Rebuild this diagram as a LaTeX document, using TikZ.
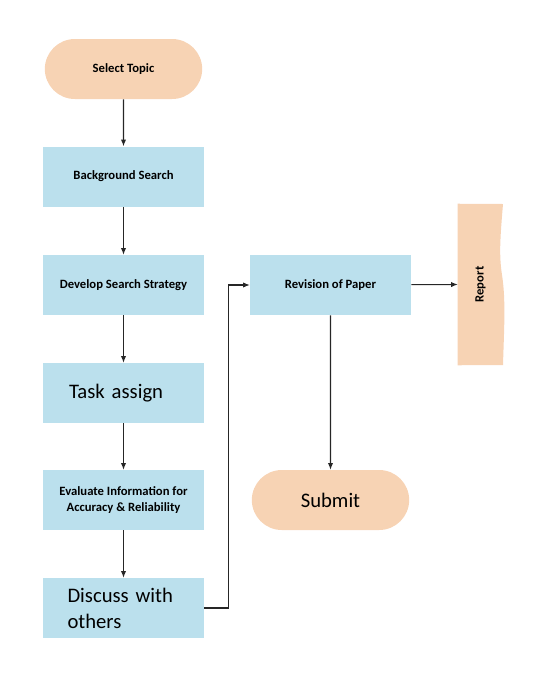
\documentclass[tikz,border=0pt]{standalone}
\usepackage{fontspec}
\setmainfont{Carlito}
\usetikzlibrary{arrows.meta,shapes.misc}
\definecolor{stepblue}{RGB}{187,224,237}
\definecolor{peach}{RGB}{247,211,180}
\tikzset{
  stepbox/.style={shape=rectangle,fill=stepblue,minimum width=120.75pt,minimum height=45pt,inner sep=2pt,align=center,font=\fontsize{9.5}{12}\selectfont\bfseries},
  bigbox/.style={stepbox,align=left,text width=84pt,inner xsep=18.4pt,font=\fontsize{15.5}{19.5}\selectfont},
  pill/.style={shape=rounded rectangle,fill=peach,minimum width=122pt,minimum height=45pt,inner sep=2pt,font=\fontsize{9.5}{12}\selectfont\bfseries},
  flow/.style={draw=black!85,line width=0.8pt,-{Latex[length=5pt,width=4pt]}}
}
\begin{document}
\begin{tikzpicture}[x=0.75pt,y=-0.75pt]
  \useasboundingbox (0,0) rectangle (539,686);
  \draw
    (123.5,69) node[pill] (topic){Select Topic}
    (123.5,176.5) node[stepbox] (background){Background Search}
    (123.5,285) node[stepbox] (strategy){Develop Search Strategy}
    (123.5,393) node[bigbox,inner xsep=19.5pt,text width=81.75pt] (task){Task assign}
    (123.5,500) node[stepbox] (evaluate){Evaluate Information for\\Accuracy \& Reliability}
    (123.5,608) node[bigbox] (discuss){Discuss with\\others}
    (330.5,285) node[stepbox] (revision){Revision of Paper}
    (330.5,500) node[pill,font=\fontsize{15.5}{19}\selectfont] (submit){Submit}
    (480.5,284.5) node[minimum width=33.75pt,minimum height=120.75pt,inner sep=0pt] (report){};
  % report sheet with wavy edge
  \fill[peach] (report.north west) -- (503,204)
    .. controls (500,240) and (499,255) .. (502,275)
    .. controls (506,300) and (504,330) .. (503,365)
    -- (report.south west) -- cycle;
  \node[rotate=90,font=\fontsize{9.5}{12}\selectfont\bfseries] (reportlabel) at (report.center) {Report};
  \begin{scope}[flow]
    \draw (topic) -- (background);
    \draw (background) -- (strategy);
    \draw (strategy) -- (task);
    \draw (task) -- (evaluate);
    \draw (evaluate) -- (discuss);
    \draw (discuss.east) -- ++(24,0) |- (revision.west);
    \draw (revision) -- (report.west);
    \draw (revision) -- (submit);
  \end{scope}
\end{tikzpicture}
\end{document}
